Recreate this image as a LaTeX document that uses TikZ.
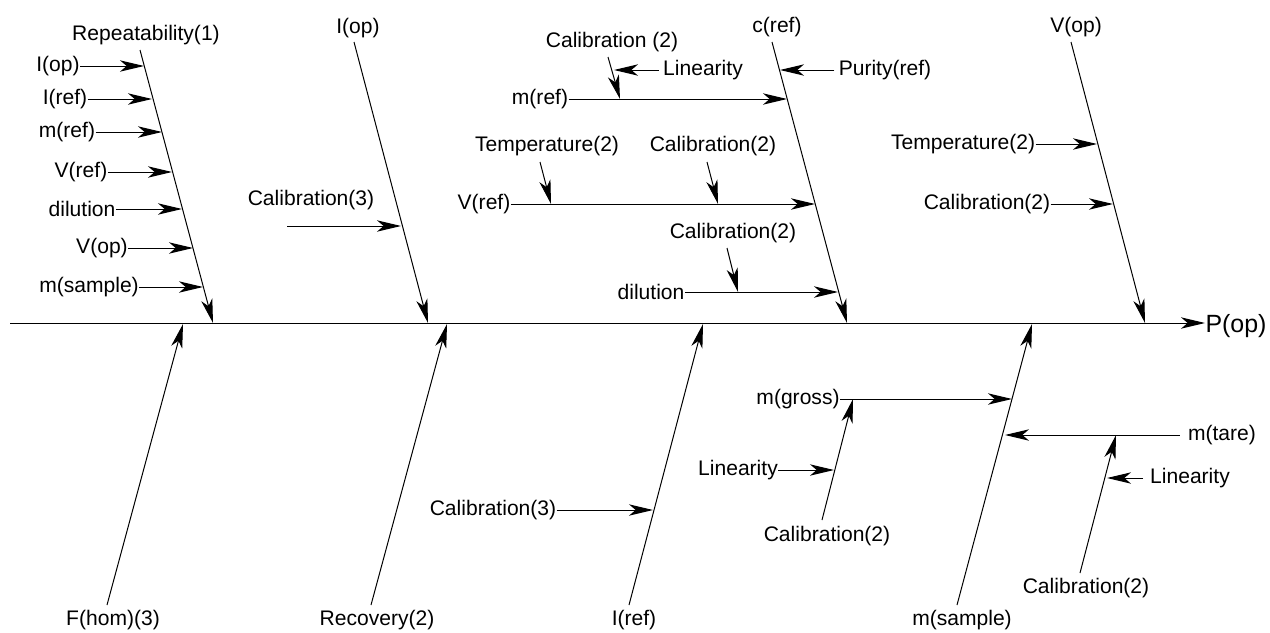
\documentclass[tikz,border=0pt]{standalone}
\usepackage{fontspec}
\setmainfont{Liberation Sans}
\usetikzlibrary{arrows.meta}

\tikzset{every picture/.style={line width=0.75pt}}
\tikzset{
lbl/.style={inner sep=0pt, font=\fontsize{15.8}{18}\selectfont},
arr/.style={-{Stealth[length=18pt,width=8.5pt,inset=5pt]}}}

\begin{document}
\begin{tikzpicture}[x=0.75pt,y=0.75pt,yscale=-1,xscale=1]
\path[use as bounding box] (0,0) rectangle (1270,632);

%Spine
\coordinate (s0) at (10,323);
\node[lbl, anchor=west, font=\fontsize{18.7}{22}\selectfont] (pop) at (1205,326) {P(op)};
\draw[arr] (s0) -- (s0 -| pop.west);

%Branch: Repeatability(1)
\node[lbl] (rep) at (146,35) {Repeatability(1)};
\coordinate (rept) at (140,50);
\coordinate (reph) at (213,323);
\draw[arr] (rept) -- (reph);
% Text Node
\node[lbl] (iop1) at (58,66) {I(op)};
\coordinate (iop1h) at (144,66);
\draw[arr] (iop1.east) -- (iop1h);
\node[lbl] (iref1) at (65,99) {I(ref)};
\coordinate (iref1h) at (152,99);
\draw[arr] (iref1.east) -- (iref1h);
\node[lbl] (mref1) at (67,132) {m(ref)};
\coordinate (mref1h) at (162,132);
\draw[arr] (mref1.east) -- (mref1h);
\node[lbl] (vref1) at (81,172) {V(ref)};
\coordinate (vref1h) at (172,172);
\draw[arr] (vref1.east) -- (vref1h);
\node[lbl] (dil1) at (82,209) {dilution};
\coordinate (dil1h) at (182,209);
\draw[arr] (dil1.east) -- (dil1h);
\node[lbl] (vop1) at (102,248) {V(op)};
\coordinate (vop1h) at (193,248);
\draw[arr] (vop1.east) -- (vop1h);
\node[lbl] (msam1) at (89,287) {m(sample)};
\coordinate (msam1h) at (203,287);
\draw[arr] (msam1.east) -- (msam1h);

%Branch: I(op)
\node[lbl] (iop) at (358,28) {I(op)};
\coordinate (iopt) at (354,42);
\coordinate (ioph) at (428,323);
\draw[arr] (iopt) -- (ioph);
\node[lbl] (cal3a) at (311,200) {Calibration(3)};
\coordinate (cal3at) at (287,226);
\coordinate (cal3ah) at (401,226);
\draw[arr] (cal3at) -- (cal3ah);

%Branch: c(ref)
\node[lbl] (cref) at (777,27) {c(ref)};
\coordinate (creft) at (772,42);
\coordinate (crefh) at (847,323);
\draw[arr] (creft) -- (crefh);
\node[lbl] (pur) at (885,70) {Purity(ref)};
\coordinate (purh) at (780,70);
\draw[arr] ([xshift=-3pt]pur.west) -- (purh);
% m(ref) with its causes
\node[lbl] (mref2) at (540,99) {m(ref)};
\coordinate (mref2h) at (787,99);
\draw[arr] (mref2.east) -- (mref2h);
\node[lbl] (cal2a) at (612,42) {Calibration (2)};
\coordinate (cal2at) at (608,57);
\coordinate (cal2ah) at (620,99);
\draw[arr] (cal2at) -- (cal2ah);
\node[lbl] (lin1) at (703,70) {Linearity};
\coordinate (lin1h) at (614,70);
\draw[arr] ([xshift=-3pt]lin1.west) -- (lin1h);
% V(ref) with its causes
\node[lbl] (vref2) at (484,204) {V(ref)};
\coordinate (vref2h) at (815,204);
\draw[arr] (vref2.east) -- (vref2h);
\node[lbl] (temp1) at (547,146) {Temperature(2)};
\coordinate (temp1t) at (540,162);
\coordinate (temp1h) at (551,204);
\draw[arr] (temp1t) -- (temp1h);
\node[lbl] (cal2b) at (713,146) {Calibration(2)};
\coordinate (cal2bt) at (707,162);
\coordinate (cal2bh) at (718,204);
\draw[arr] (cal2bt) -- (cal2bh);
% dilution with its cause
\node[lbl] (dil2) at (651,292) {dilution};
\coordinate (dil2h) at (838,292);
\draw[arr] (dil2.east) -- (dil2h);
\node[lbl] (cal2c) at (733,233) {Calibration(2)};
\coordinate (cal2ct) at (727,248);
\coordinate (cal2ch) at (738,292);
\draw[arr] (cal2ct) -- (cal2ch);

%Branch: V(op)
\node[lbl] (vop) at (1076,27) {V(op)};
\coordinate (vopt) at (1071,42);
\coordinate (voph) at (1145,323);
\draw[arr] (vopt) -- (voph);
\node[lbl] (temp2) at (963,144) {Temperature(2)};
\coordinate (temp2h) at (1097,144);
\draw[arr] (temp2.east) -- (temp2h);
\node[lbl] (cal2d) at (987,204) {Calibration(2)};
\coordinate (cal2dh) at (1113,204);
\draw[arr] (cal2d.east) -- (cal2dh);

%Branch: F(hom)(3)
\node[lbl] (fhom) at (113,620) {F(hom)(3)};
\coordinate (fhomt) at (107,605);
\coordinate (fhomh) at (183,324);
\draw[arr] (fhomt) -- (fhomh);

%Branch: Recovery(2)
\node[lbl] (rec) at (377,620) {Recovery(2)};
\coordinate (rect) at (371,605);
\coordinate (rech) at (447,324);
\draw[arr] (rect) -- (rech);

%Branch: I(ref)
\node[lbl] (iref) at (634,620) {I(ref)};
\coordinate (ireft) at (629,605);
\coordinate (irefh) at (703,324);
\draw[arr] (ireft) -- (irefh);
\node[lbl] (cal3b) at (493,510) {Calibration(3)};
\coordinate (cal3bh) at (653,510);
\draw[arr] (cal3b.east) -- (cal3bh);

%Branch: m(sample)
\node[lbl] (msam) at (962,620) {m(sample)};
\coordinate (msamt) at (957,605);
\coordinate (msamh) at (1032,324);
\draw[arr] (msamt) -- (msamh);
% m(gross) with its causes
\node[lbl] (mgro) at (798,399) {m(gross)};
\coordinate (mgroh) at (1012,399);
\draw[arr] (mgro.east) -- (mgroh);
\node[lbl] (cal2e) at (827,536) {Calibration(2)};
\coordinate (cal2et) at (822,520);
\coordinate (cal2eh) at (853,399);
\draw[arr] (cal2et) -- (cal2eh);
\node[lbl] (lin2) at (738,470) {Linearity};
\coordinate (lin2h) at (834,470);
\draw[arr] (lin2.east) -- (lin2h);
% m(tare) with its causes
\node[lbl] (mtare) at (1222,435) {m(tare)};
\coordinate (mtareh) at (1005,435);
\draw[arr] ([xshift=-6pt]mtare.west) -- (mtareh);
\node[lbl] (cal2f) at (1086,588) {Calibration(2)};
\coordinate (cal2ft) at (1080,573);
\coordinate (cal2fh) at (1116,435);
\draw[arr] (cal2ft) -- (cal2fh);
\node[lbl] (lin3) at (1190,478) {Linearity};
\coordinate (lin3h) at (1107,478);
\draw[arr] ([xshift=-5pt]lin3.west) -- (lin3h);

\end{tikzpicture}
\end{document}
